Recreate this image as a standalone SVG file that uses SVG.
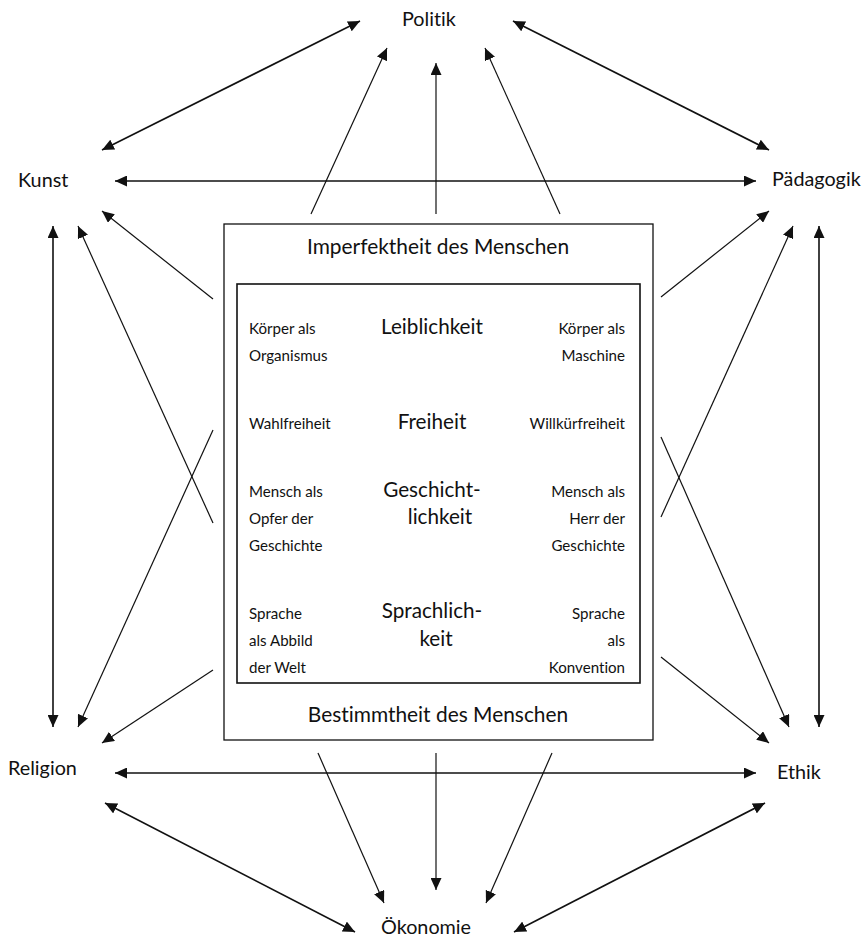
<svg xmlns="http://www.w3.org/2000/svg" width="866" height="939" viewBox="0 0 866 939">
  <style>
    text { font-family: Lato, "Open Sans", sans-serif; fill: #111; font-variant-ligatures: none; }
    .lbl { font-size: 19.8px; }
    .ttl { font-size: 20.9px; text-anchor: middle; }
    .mid { font-size: 20.7px; text-anchor: middle; }
    .sm { font-size: 15.1px; }
    .rt { text-anchor: end; }
    .box { fill: none; stroke: #111; }
    .c line { stroke: #111; stroke-width: 1.2; fill: none; }
    .c .dbl { stroke-width: 1.6; marker-start: url(#ah); marker-end: url(#ah); }
    .c .one { marker-end: url(#ah); }
  </style>
  <defs>
    <marker id="ah" markerUnits="userSpaceOnUse" viewBox="0 0 12 11" refX="12" refY="5.5" markerWidth="12" markerHeight="11" orient="auto-start-reverse">
      <path d="M0,0 L12,5.5 L0,11 z" fill="#111"/>
    </marker>
  </defs>
  <rect width="866" height="939" fill="#fff"/>

  <!-- connectors -->
  <g id="connectors" class="c">
    <!-- outer ring of two-way links -->
    <line class="dbl" x1="360" y1="21" x2="102" y2="150"/>
    <line class="dbl" x1="513" y1="21" x2="769" y2="150"/>
    <line class="dbl" x1="115" y1="181" x2="756" y2="181"/>
    <line class="dbl" x1="53" y1="226" x2="53" y2="727"/>
    <line class="dbl" x1="819" y1="226" x2="819" y2="727"/>
    <line class="dbl" x1="115" y1="773" x2="756" y2="773"/>
    <line class="dbl" x1="105" y1="803" x2="355" y2="932"/>
    <line class="dbl" x1="765" y1="803" x2="514" y2="932"/>
    <!-- centre to Politik -->
    <line class="one" x1="311" y1="214" x2="387" y2="48"/>
    <line class="one" x1="436" y1="214" x2="436" y2="63"/>
    <line class="one" x1="560" y1="214" x2="485" y2="48"/>
    <!-- centre to left side -->
    <line class="one" x1="213" y1="299" x2="102" y2="211"/>
    <line class="one" x1="213" y1="523" x2="78" y2="226"/>
    <line class="one" x1="213" y1="430" x2="78" y2="727"/>
    <line class="one" x1="213" y1="670" x2="102" y2="743"/>
    <!-- centre to right side -->
    <line class="one" x1="661" y1="297" x2="769" y2="211"/>
    <line class="one" x1="661" y1="517" x2="793" y2="226"/>
    <line class="one" x1="661" y1="437" x2="789" y2="727"/>
    <line class="one" x1="661" y1="657" x2="769" y2="743"/>
    <!-- centre to Ökonomie -->
    <line class="one" x1="318" y1="753" x2="384" y2="903"/>
    <line class="one" x1="436" y1="753" x2="436" y2="890"/>
    <line class="one" x1="552" y1="753" x2="486" y2="903"/>
  </g>

  <!-- outer fields -->
  <g id="politik"><text class="lbl" x="402" y="26">Politik</text></g>
  <g id="kunst"><text class="lbl" x="18" y="187">Kunst</text></g>
  <g id="paedagogik"><text class="lbl" x="772" y="186">Pädagogik</text></g>
  <g id="religion"><text class="lbl" x="8" y="775">Religion</text></g>
  <g id="ethik"><text class="lbl" x="777" y="779">Ethik</text></g>
  <g id="oekonomie"><text class="lbl" x="381" y="934">Ökonomie</text></g>

  <!-- central image of the human being -->
  <g id="mensch">
    <rect class="box" x="224" y="224" width="429" height="516" stroke-width="1.3"/>
    <text class="ttl" x="438" y="254">Imperfektheit des Menschen</text>
    <text class="ttl" x="438" y="722">Bestimmtheit des Menschen</text>
  </g>

  <g id="dimensionen">
    <rect class="box" x="237" y="284" width="403" height="399" stroke-width="1.6"/>
  </g>

  <g id="leiblichkeit">
    <text class="sm" x="249" y="334">Körper als</text>
    <text class="sm" x="249" y="361">Organismus</text>
    <text class="mid" x="432" y="334">Leiblichkeit</text>
    <text class="sm rt" x="625" y="334">Körper als</text>
    <text class="sm rt" x="625" y="361">Maschine</text>
  </g>

  <g id="freiheit">
    <text class="sm" x="249" y="429">Wahlfreiheit</text>
    <text class="mid" x="432" y="429">Freiheit</text>
    <text class="sm rt" x="625" y="429">Willkürfreiheit</text>
  </g>

  <g id="geschichtlichkeit">
    <text class="sm" x="249" y="497">Mensch als</text>
    <text class="sm" x="249" y="524">Opfer der</text>
    <text class="sm" x="249" y="551">Geschichte</text>
    <text class="mid" x="432" y="497">Geschicht-</text>
    <text class="mid" x="440" y="524">lichkeit</text>
    <text class="sm rt" x="625" y="497">Mensch als</text>
    <text class="sm rt" x="625" y="524">Herr der</text>
    <text class="sm rt" x="625" y="551">Geschichte</text>
  </g>

  <g id="sprachlichkeit">
    <text class="sm" x="249" y="619">Sprache</text>
    <text class="sm" x="249" y="646">als Abbild</text>
    <text class="sm" x="249" y="673">der Welt</text>
    <text class="mid" x="432" y="618">Sprachlich-</text>
    <text class="mid" x="436" y="646">keit</text>
    <text class="sm rt" x="625" y="619">Sprache</text>
    <text class="sm rt" x="625" y="646">als</text>
    <text class="sm rt" x="625" y="673">Konvention</text>
  </g>
</svg>
